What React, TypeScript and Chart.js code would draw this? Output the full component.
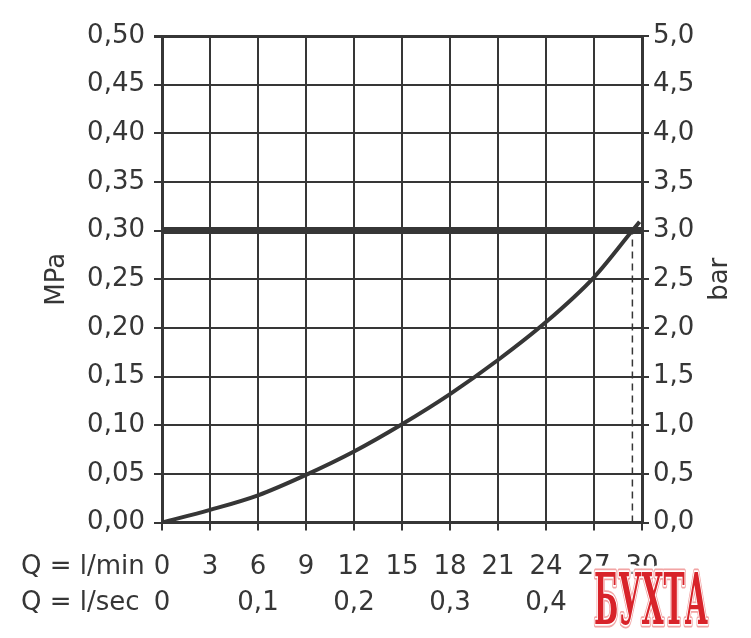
import React, { useEffect, useRef } from "react";
import { Chart, registerables } from "chart.js";

Chart.register(...registerables);

// ---- data ----
const flowLpm = [0, 3, 6, 9, 12, 15, 18, 21, 24, 27, 29.4, 29.85];
const pressureMPa = [0, 0.013, 0.028, 0.049, 0.073, 0.101, 0.132, 0.167, 0.206, 0.252, 0.3, 0.309];
const limitMPa = 0.3;
const limitFlow = 29.4;
const minTickValues = [0, 3, 6, 9, 12, 15, 18, 21, 24, 27, 30];
const secTickValues = [0, 6, 12, 18, 24];
const secTickLabels = ["0", "0,1", "0,2", "0,3", "0,4"];
const mpaTickLabels = ["0,00", "0,05", "0,10", "0,15", "0,20", "0,25", "0,30", "0,35", "0,40", "0,45", "0,50"];
const barTickLabels = ["0,0", "0,5", "1,0", "1,5", "2,0", "2,5", "3,0", "3,5", "4,0", "4,5", "5,0"];
const leftTitle = "MPa";
const rightTitle = "bar";
const rowTitleMin = "Q = l/min";
const rowTitleSec = "Q = l/sec";
const watermark = "БУХТА";

const INK = "#363636";
const FONT = '"DejaVu Sans", sans-serif';
const FS = 26;

const textPlugin = {
  id: "extraText",
  afterDraw(chart: any) {
    const ctx = chart.ctx;
    const area = chart.chartArea;
    const midY = (area.top + area.bottom) / 2;
    ctx.save();
    ctx.fillStyle = INK;
    ctx.font = `${FS}px ${FONT}`;
    ctx.textBaseline = "middle";
    // rotated axis titles
    ctx.save();
    ctx.translate(57, midY);
    ctx.rotate(-Math.PI / 2);
    ctx.textAlign = "center";
    ctx.fillText(leftTitle, 0, 0);
    ctx.restore();
    ctx.save();
    ctx.translate(720, midY);
    ctx.rotate(-Math.PI / 2);
    ctx.textAlign = "center";
    ctx.fillText(rightTitle, 0, 0);
    ctx.restore();
    // row titles
    const xs = chart.scales.x;
    const x2 = chart.scales.x2;
    ctx.textAlign = "left";
    ctx.fillText(rowTitleMin, 21, xs.top + 8 + 21 + FS * 0.6);
    ctx.fillText(rowTitleSec, 21, x2.top + 5 + FS * 0.6);
    // watermark
    ctx.save();
    ctx.font = `bold 40px "DejaVu Serif", serif`;
    ctx.textBaseline = "alphabetic";
    const w = ctx.measureText(watermark).width;
    ctx.translate(651, 624);
    ctx.scale(114 / w, 1.78);
    ctx.textAlign = "center";
    ctx.lineJoin = "round";
    ctx.strokeStyle = "#ffffff";
    ctx.lineWidth = 7;
    ctx.strokeText(watermark, 0, 0);
    ctx.strokeStyle = "#f2a5a5";
    ctx.lineWidth = 4;
    ctx.strokeText(watermark, 0, 0);
    ctx.strokeStyle = "#ffffff";
    ctx.lineWidth = 2;
    ctx.strokeText(watermark, 0, 0);
    ctx.fillStyle = "#d8232a";
    ctx.fillText(watermark, 0, 0);
    ctx.restore();
    ctx.restore();
  },
};

export default function App() {
  const ref = useRef<HTMLCanvasElement>(null);
  useEffect(() => {
    if (!ref.current) return;
    const chart = new Chart(ref.current, {
      type: "line",
      data: {
        datasets: [
          {
            data: [
              { x: 0, y: limitMPa },
              { x: 30, y: limitMPa },
            ],
            borderColor: INK,
            borderWidth: 7,
            pointRadius: 0,
            xAxisID: "x",
            yAxisID: "y",
          },
          {
            data: flowLpm.map((q, i) => ({ x: q, y: pressureMPa[i] })),
            borderColor: INK,
            borderWidth: 4,
            pointRadius: 0,
            cubicInterpolationMode: "monotone",
            xAxisID: "x",
            yAxisID: "y",
          },
          {
            data: [
              { x: limitFlow, y: 0 },
              { x: limitFlow, y: limitMPa },
            ],
            borderColor: INK,
            borderWidth: 1.5,
            borderDash: [7, 5],
            pointRadius: 0,
            xAxisID: "x",
            yAxisID: "y",
          },
        ],
      },
      options: {
        animation: false,
        responsive: false,
        maintainAspectRatio: false,
        layout: { padding: { top: 36, left: 0, right: 0, bottom: 0 } },
        plugins: { legend: { display: false }, tooltip: { enabled: false } },
        scales: {
          x: {
            type: "linear",
            position: "bottom",
            weight: 0,
            min: 0,
            max: 30,
            afterBuildTicks: (s: any) => {
              s.ticks = minTickValues.map((v) => ({ value: v }));
            },
            afterFit: (s: any) => {
              s.height = 60;
            },
            grid: { color: INK, lineWidth: 2, tickLength: 8 },
            border: { color: INK, width: 3 },
            ticks: {
              color: INK,
              font: { family: FONT, size: FS },
              padding: 21,
              maxRotation: 0,
              autoSkip: false,
              callback: (v: any) => String(v),
            },
          },
          x2: {
            type: "linear",
            position: "bottom",
            weight: 1,
            min: 0,
            max: 30,
            afterBuildTicks: (s: any) => {
              s.ticks = secTickValues.map((v) => ({ value: v }));
            },
            afterFit: (s: any) => {
              s.height = 55.5;
            },
            grid: { display: false, drawTicks: false },
            border: { display: false },
            ticks: {
              color: INK,
              font: { family: FONT, size: FS },
              padding: 5,
              maxRotation: 0,
              autoSkip: false,
              callback: (v: any) => secTickLabels[secTickValues.indexOf(Number(v))] ?? "",
            },
          },
          y: {
            type: "linear",
            position: "left",
            min: 0,
            max: 0.5,
            afterBuildTicks: (s: any) => {
              s.ticks = mpaTickLabels.map((_, i) => ({ value: i * 0.05 }));
            },
            afterFit: (s: any) => {
              s.width = 162;
            },
            grid: {
              color: INK,
              lineWidth: (c: any) => (c.index === mpaTickLabels.length - 1 ? 3 : 2),
              tickLength: 8,
            },
            border: { color: INK, width: 3 },
            ticks: {
              color: INK,
              font: { family: FONT, size: FS },
              padding: 9,
              autoSkip: false,
              callback: (_v: any, i: number) => mpaTickLabels[i],
            },
          },
          y2: {
            type: "linear",
            position: "right",
            min: 0,
            max: 5,
            afterBuildTicks: (s: any) => {
              s.ticks = barTickLabels.map((_, i) => ({ value: i * 0.5 }));
            },
            afterFit: (s: any) => {
              s.width = 109;
            },
            grid: { drawOnChartArea: false, color: INK, lineWidth: 2, tickLength: 7 },
            border: { color: INK, width: 3 },
            ticks: {
              color: INK,
              font: { family: FONT, size: FS },
              padding: 4,
              autoSkip: false,
              callback: (_v: any, i: number) => barTickLabels[i],
            },
          },
        },
      },
      plugins: [textPlugin],
    } as any);
    return () => chart.destroy();
  }, []);
  return (
    <div style={{ position: "fixed", left: 0, top: 0, width: 751, height: 638, background: "#fff" }}>
      <canvas ref={ref} width={751} height={638} style={{ width: 751, height: 638, display: "block" }} />
    </div>
  );
}
